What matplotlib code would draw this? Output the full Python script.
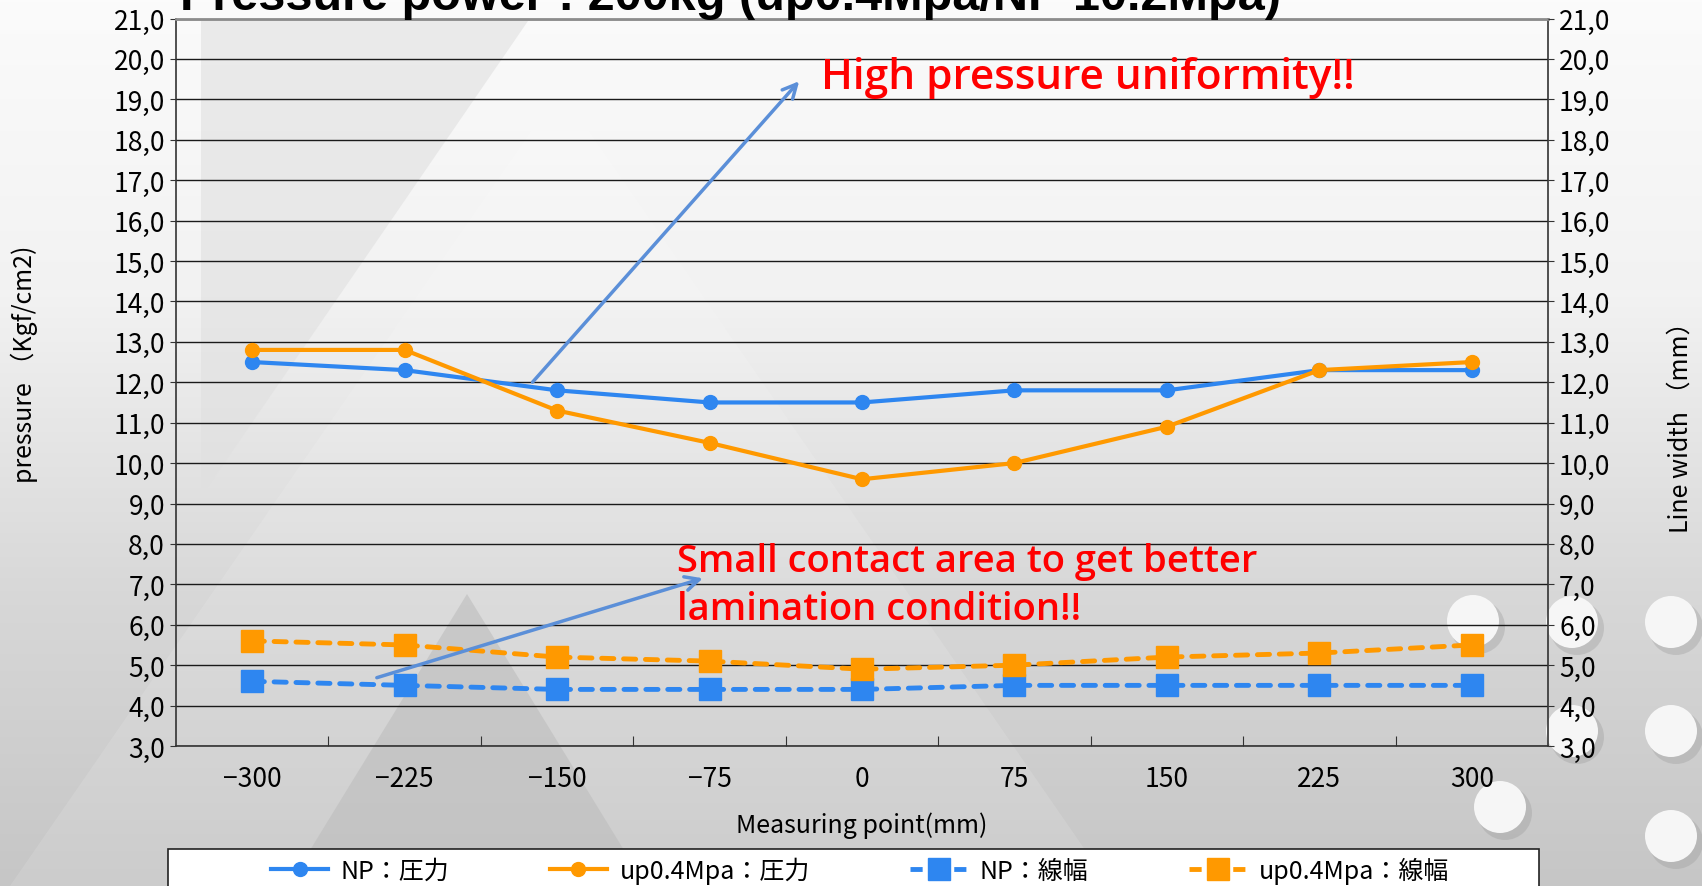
import numpy as np
import matplotlib.pyplot as plt
from matplotlib.patches import Polygon, Circle, Rectangle
from matplotlib.lines import Line2D

# data
points = [-300, -225, -150, -75, 0, 75, 150, 225, 300]
np_pressure = [12.5, 12.3, 11.8, 11.5, 11.5, 11.8, 11.8, 12.3, 12.3]
up_pressure = [12.8, 12.8, 11.3, 10.5, 9.6, 10.0, 10.9, 12.3, 12.5]
np_width = [4.6, 4.5, 4.4, 4.4, 4.4, 4.5, 4.5, 4.5, 4.5]
up_width = [5.6, 5.5, 5.2, 5.1, 4.9, 5.0, 5.2, 5.3, 5.5]
labels = ['NP：圧力', 'up0.4Mpa：圧力', 'NP：線幅', 'up0.4Mpa：線幅']

BLUE = '#2E86F0'
ORANGE = '#FF9900'
ARROW = '#5B8FD8'
JP = ['Noto Sans CJK JP', 'DejaVu Sans']

plt.rcParams['font.family'] = JP

W, H = 1702, 887
fig = plt.figure(figsize=(W / 100, H / 100), dpi=100)

# background: gradient, triangles, circles (pixel coords)
bg = fig.add_axes([0, 0, 1, 1], zorder=-10)
bg.set_xlim(0, W)
bg.set_ylim(H, 0)
bg.axis('off')
grad = np.linspace(0, 1, 256)[:, None]
bg.imshow(grad, extent=(0, W, H, 0), cmap=plt.matplotlib.colors.LinearSegmentedColormap.from_list(
    'g', ['#FBFBFB', '#F2F2F2', '#D8D8D8', '#C6C6C6']), aspect='auto', zorder=0)
bg.add_patch(Polygon([(201, 22), (528, 22), (201, 498)], closed=True, color='#E0E0E0', alpha=0.6, lw=0, zorder=1))
bg.add_patch(Polygon([(560, 90), (1110, 887), (10, 887)], closed=True, color='#FFFFFF', alpha=0.12, lw=0, zorder=1))
bg.add_patch(Polygon([(467, 595), (646, 887), (288, 887)], closed=True, color='#BDBDBD', alpha=0.6, lw=0, zorder=2))
for cx, cy in [(1473, 622), (1572, 623), (1671, 623), (1572, 732), (1671, 732), (1500, 808), (1671, 837)]:
    bg.add_patch(Circle((cx + 5, cy + 6), 27, color='#9A9A9A', alpha=0.35, lw=0, zorder=3))
    bg.add_patch(Circle((cx, cy), 26, color='#F6F6F6', lw=0, zorder=4))

ax = fig.add_axes([176 / W, 140 / H, (1548 - 176) / W, (867.5 - 140) / H])
ax.patch.set_alpha(0)

ax.plot(points, np_pressure, color=BLUE, lw=3, marker='o', ms=10, zorder=5)
ax.plot(points, up_pressure, color=ORANGE, lw=3, marker='o', ms=10, zorder=5)
ax.plot(points, np_width, color=BLUE, lw=3.5, ls=(0, (2.5, 2)), dash_capstyle='round',
        marker='s', ms=16, zorder=5)
ax.plot(points, up_width, color=ORANGE, lw=3.5, ls=(0, (2.5, 2)), dash_capstyle='round',
        marker='s', ms=16, zorder=5)

ax.set_xlim(-337.5, 337.5)
ax.set_ylim(3, 21)
yt = np.arange(3, 22, 1)
ax.set_yticks(yt)
ax.set_yticklabels([('%.1f' % v).replace('.', ',') for v in yt], fontsize=19)
ax.yaxis.grid(True, color='#1A1A1A', lw=1)
ax.set_axisbelow(True)
ax.set_xticks(np.arange(-262.5, 300, 75))
ax.set_xticklabels([])
ax.set_xticks(points, minor=True)
ax.set_xticklabels([str(p).replace('-', '\u2212') for p in points], minor=True, fontsize=19)
ax.tick_params(axis='x', which='major', direction='in', length=7, color='#333333')
ax.tick_params(axis='x', which='minor', length=0, pad=14)
ax.tick_params(axis='y', length=4, color='#333333', pad=4)
for s in ax.spines.values():
    s.set_color('#333333')
    s.set_linewidth(1.2)
ax.spines['top'].set_color('#8C8C8C')
ax.spines['top'].set_linewidth(2)
ax.set_xlabel('Measuring point(mm)', fontsize=18, labelpad=14)
ax.set_ylabel('pressure （Kgf/cm2)', fontsize=18)
ax.yaxis.set_label_coords(-0.1005, 0.526)

ax2 = ax.twinx()
ax2.set_ylim(3, 21)
ax2.set_yticks(yt)
ax2.set_yticklabels([('%.1f' % v).replace('.', ',') for v in yt], fontsize=19)
ax2.tick_params(axis='y', length=4, color='#333333', pad=4)
for s in ax2.spines.values():
    s.set_visible(False)
ax2.set_ylabel('Line width （mm）', fontsize=18, rotation=90)
ax2.yaxis.set_label_coords(1.0875, 0.448)

# annotations
ax.annotate('', xy=(-30, 19.5), xytext=(-163, 11.95),
            arrowprops=dict(arrowstyle='->', color=ARROW, lw=2.5, mutation_scale=25), zorder=6)
ax.annotate('', xy=(-77, 7.17), xytext=(-240, 4.67),
            arrowprops=dict(arrowstyle='->', color=ARROW, lw=2.5, mutation_scale=25), zorder=6)
ax.text(-20, 19.56, 'High pressure uniformity!!', color='#FF0000', fontsize=30.5,
        family='Open Sans', fontweight='semibold', va='center', ha='left', zorder=7)
ax.text(-91, 6.98, 'Small contact area to get better\nlamination condition!!', color='#FF0000',
        fontsize=27.5, family='Open Sans', fontweight='semibold', va='center', ha='left',
        linespacing=1.36, zorder=7)

fig.text(730 / W, 1 - 10 / H, 'Pressure power : 200kg (up0.4Mpa/NP 10.2Mpa)', fontsize=35,
         fontweight='bold', family='Liberation Sans', ha='center', va='baseline')

# legend box spans the plot width, entries centred inside
fig.patches.append(Rectangle((168 / W, -0.01), (1539 - 168) / W, 37 / H + 0.01,
                             transform=fig.transFigure, facecolor='white', edgecolor='#222222',
                             lw=1.2, zorder=1))
handles = [
    Line2D([], [], color=BLUE, lw=3, marker='o', ms=10),
    Line2D([], [], color=ORANGE, lw=3, marker='o', ms=10),
    Line2D([], [], color=BLUE, lw=3.5, ls=(0, (2.5, 2)), marker='s', ms=16),
    Line2D([], [], color=ORANGE, lw=3.5, ls=(0, (2.5, 2)), marker='s', ms=16),
]
leg = fig.legend(handles, labels, loc='center', bbox_to_anchor=(860 / W, 16 / H),
                 ncol=4, fontsize=18, frameon=False, handlelength=2.3, handletextpad=0.5,
                 columnspacing=4.0, borderaxespad=0)

plt.savefig('out.png', dpi=100)
